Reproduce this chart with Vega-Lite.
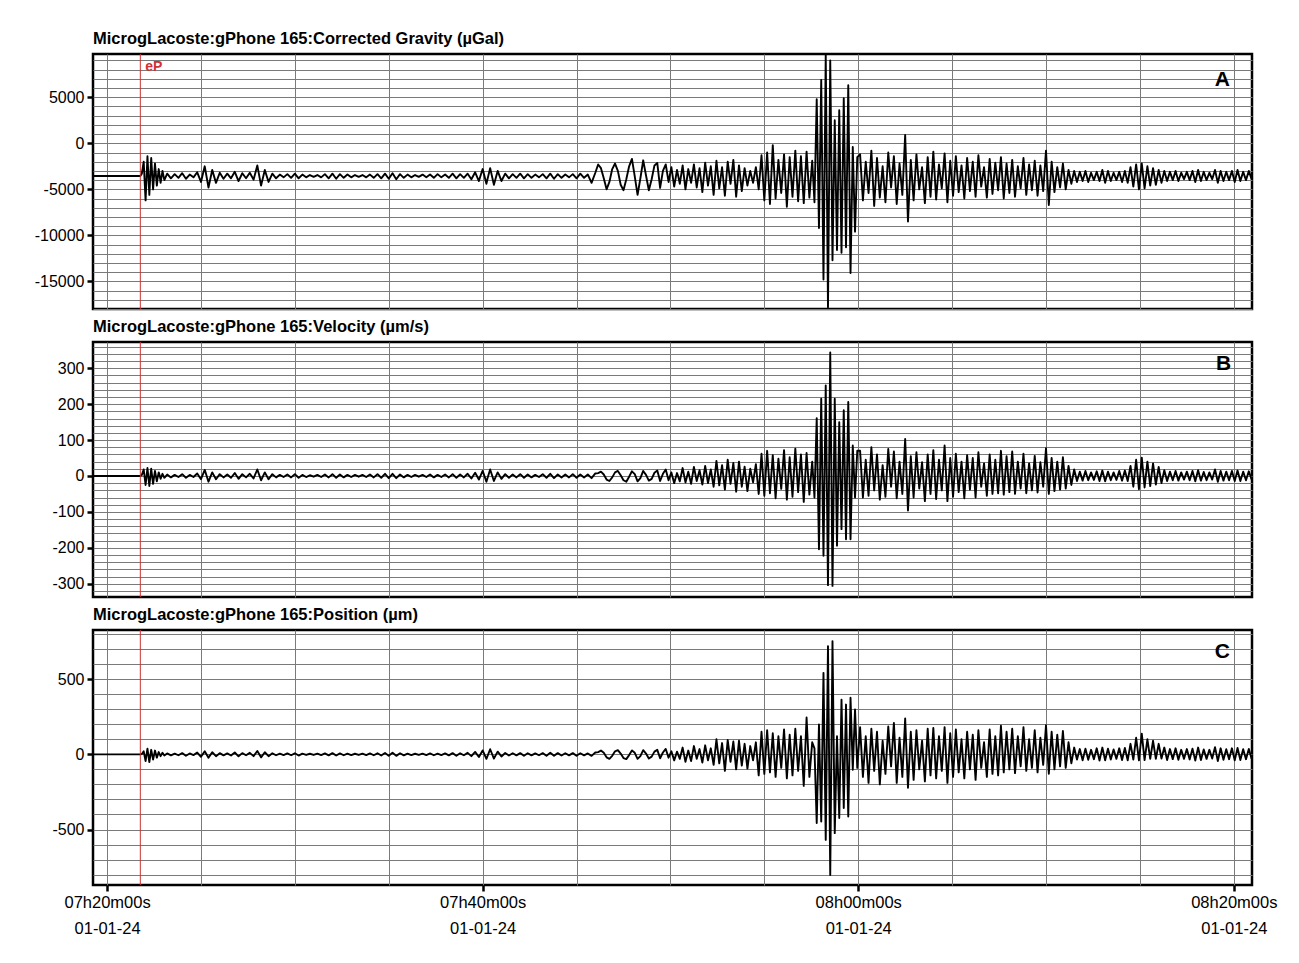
{
"$schema": "https://vega.github.io/schema/vega-lite/v6.json",
"padding": {"left": 6, "top": 29, "right": 10, "bottom": 10},
"spacing": 6,
"config": {
  "font": "Liberation Sans",
  "view": {"stroke": "black", "strokeWidth": 2.5},
  "axis": {"gridColor": "#7a7a7a", "gridWidth": 1, "gridOpacity": 1, "labelFont": "Liberation Sans", "labelFontSize": 16, "labelColor": "black", "tickColor": "black", "tickWidth": 2.5, "tickSize": 6, "domain": false, "title": null, "labelOverlap": false, "labelFlush": false, "tickCount": 200},
  "title": {"font": "Liberation Sans", "fontSize": 16.5, "fontWeight": "bold", "anchor": "start", "frame": "group", "color": "black", "offset": 6, "baseline": "bottom"}
},
"datasets": {"trace": [
{"t":-0.75,"a":-3550,"b":0,"c":0},
{"t":1.77,"a":-3550,"b":0,"c":0},
{"t":1.85,"a":-3300,"b":3,"c":2},
{"t":1.95,"a":-2000,"b":18,"c":20},
{"t":2.05,"a":-6200,"b":-25,"c":-45},
{"t":2.15,"a":-1400,"b":22,"c":38},
{"t":2.25,"a":-5600,"b":-28,"c":-51},
{"t":2.35,"a":-1600,"b":20,"c":30},
{"t":2.45,"a":-5000,"b":-22,"c":-35},
{"t":2.55,"a":-2200,"b":14,"c":25},
{"t":2.65,"a":-4600,"b":-15,"c":-22},
{"t":2.75,"a":-2800,"b":10,"c":15},
{"t":2.85,"a":-4300,"b":-8,"c":-12},
{"t":2.95,"a":-3000,"b":6,"c":10},
{"t":3.05,"a":-4000,"b":-5,"c":-8},
{"t":3.2,"a":-3300,"b":4,"c":6},
{"t":3.4,"a":-3800,"b":-4,"c":-7},
{"t":3.6,"a":-3350,"b":3,"c":5},
{"t":3.8,"a":-3750,"b":-3,"c":-6},
{"t":4.0,"a":-3250,"b":5,"c":8},
{"t":4.2,"a":-3850,"b":-5,"c":-9},
{"t":4.4,"a":-3400,"b":3,"c":6},
{"t":4.6,"a":-3700,"b":-3,"c":-5},
{"t":4.8,"a":-3150,"b":7,"c":12},
{"t":5.0,"a":-4200,"b":-9,"c":-16},
{"t":5.2,"a":-2500,"b":17,"c":20},
{"t":5.4,"a":-4800,"b":-16,"c":-22},
{"t":5.6,"a":-2900,"b":10,"c":14},
{"t":5.8,"a":-4300,"b":-9,"c":-12},
{"t":6.0,"a":-3200,"b":5,"c":8},
{"t":6.2,"a":-3850,"b":-4,"c":-7},
{"t":6.4,"a":-3300,"b":4,"c":6},
{"t":6.6,"a":-3800,"b":-5,"c":-8},
{"t":6.8,"a":-3100,"b":8,"c":12},
{"t":7.0,"a":-4100,"b":-8,"c":-13},
{"t":7.2,"a":-3250,"b":5,"c":8},
{"t":7.4,"a":-3800,"b":-4,"c":-6},
{"t":7.6,"a":-3200,"b":6,"c":10},
{"t":7.8,"a":-3950,"b":-7,"c":-12},
{"t":8.0,"a":-2400,"b":18,"c":22},
{"t":8.2,"a":-4600,"b":-12,"c":-20},
{"t":8.4,"a":-2900,"b":10,"c":14},
{"t":8.6,"a":-4200,"b":-9,"c":-12},
{"t":8.8,"a":-3300,"b":5,"c":7},
{"t":9.0,"a":-3800,"b":-4,"c":-6},
{"t":9.2,"a":-3400,"b":3,"c":5},
{"t":9.4,"a":-3700,"b":-3,"c":-5},
{"t":9.6,"a":-3350,"b":4,"c":6},
{"t":9.8,"a":-3750,"b":-4,"c":-6},
{"t":10.0,"a":-3300,"b":5,"c":7},
{"t":10.2,"a":-3800,"b":-5,"c":-8},
{"t":10.4,"a":-3400,"b":3,"c":5},
{"t":10.6,"a":-3700,"b":-3,"c":-4},
{"t":10.8,"a":-3450,"b":2,"c":4},
{"t":11.0,"a":-3650,"b":-2,"c":-4},
{"t":11.2,"a":-3450,"b":3,"c":5},
{"t":11.4,"a":-3700,"b":-3,"c":-5},
{"t":11.6,"a":-3350,"b":4,"c":6},
{"t":11.8,"a":-3800,"b":-4,"c":-7},
{"t":12.0,"a":-3300,"b":5,"c":8},
{"t":12.2,"a":-3850,"b":-5,"c":-8},
{"t":12.4,"a":-3350,"b":4,"c":6},
{"t":12.6,"a":-3750,"b":-4,"c":-6},
{"t":12.8,"a":-3400,"b":3,"c":5},
{"t":13.0,"a":-3700,"b":-3,"c":-5},
{"t":13.2,"a":-3450,"b":3,"c":4},
{"t":13.4,"a":-3650,"b":-2,"c":-4},
{"t":13.6,"a":-3450,"b":3,"c":5},
{"t":13.8,"a":-3700,"b":-3,"c":-5},
{"t":14.0,"a":-3400,"b":4,"c":6},
{"t":14.2,"a":-3750,"b":-4,"c":-6},
{"t":14.4,"a":-3350,"b":5,"c":7},
{"t":14.6,"a":-3800,"b":-5,"c":-8},
{"t":14.8,"a":-3300,"b":6,"c":9},
{"t":15.0,"a":-3850,"b":-6,"c":-9},
{"t":15.2,"a":-3250,"b":6,"c":10},
{"t":15.4,"a":-3900,"b":-6,"c":-10},
{"t":15.6,"a":-3350,"b":4,"c":7},
{"t":15.8,"a":-3750,"b":-4,"c":-7},
{"t":16.0,"a":-3400,"b":3,"c":5},
{"t":16.2,"a":-3700,"b":-3,"c":-5},
{"t":16.4,"a":-3450,"b":3,"c":4},
{"t":16.6,"a":-3650,"b":-2,"c":-4},
{"t":16.8,"a":-3400,"b":3,"c":5},
{"t":17.0,"a":-3700,"b":-3,"c":-5},
{"t":17.2,"a":-3400,"b":4,"c":6},
{"t":17.4,"a":-3750,"b":-4,"c":-6},
{"t":17.6,"a":-3350,"b":3,"c":5},
{"t":17.8,"a":-3700,"b":-3,"c":-5},
{"t":18.0,"a":-3400,"b":4,"c":6},
{"t":18.2,"a":-3750,"b":-4,"c":-7},
{"t":18.4,"a":-3300,"b":5,"c":8},
{"t":18.6,"a":-3800,"b":-5,"c":-9},
{"t":18.8,"a":-3350,"b":4,"c":7},
{"t":19.0,"a":-3750,"b":-4,"c":-6},
{"t":19.2,"a":-3300,"b":6,"c":10},
{"t":19.4,"a":-3900,"b":-7,"c":-12},
{"t":19.6,"a":-3150,"b":9,"c":16},
{"t":19.8,"a":-4100,"b":-10,"c":-18},
{"t":20.0,"a":-2800,"b":14,"c":26},
{"t":20.2,"a":-4400,"b":-16,"c":-30},
{"t":20.4,"a":-2700,"b":18,"c":34},
{"t":20.6,"a":-4500,"b":-14,"c":-28},
{"t":20.8,"a":-3000,"b":10,"c":18},
{"t":21.0,"a":-4100,"b":-8,"c":-14},
{"t":21.2,"a":-3300,"b":5,"c":9},
{"t":21.4,"a":-3800,"b":-5,"c":-8},
{"t":21.6,"a":-3350,"b":4,"c":7},
{"t":21.8,"a":-3750,"b":-4,"c":-7},
{"t":22.0,"a":-3300,"b":5,"c":8},
{"t":22.2,"a":-3800,"b":-5,"c":-9},
{"t":22.4,"a":-3350,"b":4,"c":7},
{"t":22.6,"a":-3750,"b":-4,"c":-7},
{"t":22.8,"a":-3400,"b":3,"c":6},
{"t":23.0,"a":-3700,"b":-3,"c":-6},
{"t":23.2,"a":-3350,"b":5,"c":8},
{"t":23.4,"a":-3800,"b":-5,"c":-9},
{"t":23.6,"a":-3300,"b":6,"c":10},
{"t":23.8,"a":-3850,"b":-6,"c":-10},
{"t":24.0,"a":-3350,"b":4,"c":8},
{"t":24.2,"a":-3750,"b":-4,"c":-8},
{"t":24.4,"a":-3400,"b":4,"c":7},
{"t":24.6,"a":-3700,"b":-4,"c":-7},
{"t":24.8,"a":-3350,"b":5,"c":8},
{"t":25.0,"a":-3800,"b":-5,"c":-9},
{"t":25.2,"a":-3300,"b":4,"c":7},
{"t":25.4,"a":-3750,"b":-4,"c":-7},
{"t":25.6,"a":-3400,"b":4,"c":6},
{"t":25.8,"a":-4300,"b":-6,"c":-10},
{"t":26.0,"a":-3200,"b":7,"c":12},
{"t":26.15,"a":-2300,"b":8,"c":15},
{"t":26.3,"a":-2700,"b":12,"c":25},
{"t":26.45,"a":-3800,"b":4,"c":10},
{"t":26.6,"a":-5000,"b":-10,"c":-20},
{"t":26.75,"a":-4200,"b":-14,"c":-30},
{"t":26.9,"a":-2800,"b":-4,"c":-10},
{"t":27.05,"a":-2200,"b":10,"c":20},
{"t":27.2,"a":-3000,"b":14,"c":28},
{"t":27.35,"a":-4500,"b":2,"c":5},
{"t":27.5,"a":-5100,"b":-12,"c":-25},
{"t":27.65,"a":-3900,"b":-16,"c":-32},
{"t":27.8,"a":-2500,"b":-2,"c":-5},
{"t":27.95,"a":-1700,"b":13,"c":26},
{"t":28.1,"a":-3600,"b":5,"c":10},
{"t":28.25,"a":-5600,"b":-15,"c":-30},
{"t":28.4,"a":-3800,"b":-6,"c":-12},
{"t":28.55,"a":-1850,"b":14,"c":28},
{"t":28.7,"a":-3500,"b":3,"c":5},
{"t":28.85,"a":-5100,"b":-13,"c":-28},
{"t":29.0,"a":-3900,"b":-8,"c":-15},
{"t":29.15,"a":-2400,"b":9,"c":18},
{"t":29.3,"a":-2150,"b":15,"c":30},
{"t":29.45,"a":-4850,"b":-14,"c":-26},
{"t":29.6,"a":-3000,"b":6,"c":12},
{"t":29.75,"a":-2300,"b":18,"c":36},
{"t":29.9,"a":-4200,"b":-12,"c":-22},
{"t":30.05,"a":-2600,"b":10,"c":20},
{"t":30.2,"a":-4700,"b":-20,"c":-40},
{"t":30.35,"a":-2900,"b":8,"c":18},
{"t":30.5,"a":-4400,"b":-15,"c":-30},
{"t":30.65,"a":-2400,"b":22,"c":45},
{"t":30.8,"a":-5000,"b":-18,"c":-50},
{"t":30.95,"a":-2800,"b":12,"c":25},
{"t":31.1,"a":-4300,"b":-22,"c":-45},
{"t":31.25,"a":-2300,"b":25,"c":55},
{"t":31.4,"a":-4800,"b":-14,"c":-30},
{"t":31.55,"a":-2700,"b":16,"c":35},
{"t":31.7,"a":-5300,"b":-24,"c":-55},
{"t":31.85,"a":-2100,"b":28,"c":60},
{"t":32.0,"a":-4600,"b":-20,"c":-40},
{"t":32.15,"a":-2500,"b":18,"c":40},
{"t":32.3,"a":-5600,"b":-30,"c":-70},
{"t":32.45,"a":-1900,"b":42,"c":100},
{"t":32.6,"a":-4900,"b":-26,"c":-60},
{"t":32.75,"a":-2600,"b":30,"c":75},
{"t":32.9,"a":-5700,"b":-38,"c":-110},
{"t":33.05,"a":-2000,"b":45,"c":95},
{"t":33.2,"a":-4400,"b":-22,"c":-50},
{"t":33.35,"a":-1800,"b":36,"c":85},
{"t":33.5,"a":-5800,"b":-44,"c":-100},
{"t":33.65,"a":-2400,"b":40,"c":90},
{"t":33.8,"a":-5200,"b":-30,"c":-75},
{"t":33.95,"a":-2700,"b":26,"c":70},
{"t":34.1,"a":-4600,"b":-42,"c":-95},
{"t":34.25,"a":-3000,"b":20,"c":55},
{"t":34.4,"a":-4300,"b":-18,"c":-40},
{"t":34.55,"a":-2600,"b":33,"c":80},
{"t":34.7,"a":-5000,"b":-50,"c":-140},
{"t":34.85,"a":-1300,"b":62,"c":150},
{"t":35.0,"a":-6200,"b":-55,"c":-130},
{"t":35.15,"a":-1000,"b":70,"c":160},
{"t":35.3,"a":-6600,"b":-48,"c":-120},
{"t":35.45,"a":-200,"b":58,"c":140},
{"t":35.6,"a":-6000,"b":-62,"c":-150},
{"t":35.75,"a":-1800,"b":48,"c":120},
{"t":35.9,"a":-5400,"b":-36,"c":-90},
{"t":36.05,"a":-1200,"b":72,"c":165},
{"t":36.2,"a":-6900,"b":-66,"c":-160},
{"t":36.35,"a":-1500,"b":52,"c":130},
{"t":36.5,"a":-5800,"b":-58,"c":-140},
{"t":36.65,"a":-800,"b":76,"c":170},
{"t":36.8,"a":-6300,"b":-45,"c":-110},
{"t":36.95,"a":-1400,"b":60,"c":120},
{"t":37.1,"a":-6500,"b":-72,"c":-210},
{"t":37.25,"a":-900,"b":64,"c":245},
{"t":37.4,"a":-5900,"b":-52,"c":-150},
{"t":37.55,"a":-1900,"b":40,"c":80},
{"t":37.67,"a":-6400,"b":-60,"c":40},
{"t":37.79,"a":4780,"b":161,"c":-457},
{"t":37.91,"a":-9200,"b":-204,"c":198},
{"t":38.03,"a":6880,"b":215,"c":-447},
{"t":38.15,"a":-14800,"b":-222,"c":542},
{"t":38.27,"a":9600,"b":252,"c":-569},
{"t":38.39,"a":-17800,"b":-304,"c":720},
{"t":38.51,"a":9000,"b":344,"c":-802},
{"t":38.63,"a":-12700,"b":-306,"c":753},
{"t":38.75,"a":2500,"b":215,"c":-524},
{"t":38.87,"a":-11600,"b":-194,"c":120},
{"t":38.99,"a":3600,"b":150,"c":-424},
{"t":39.11,"a":-11900,"b":-148,"c":364},
{"t":39.23,"a":4900,"b":183,"c":-357},
{"t":39.35,"a":-11300,"b":-176,"c":331},
{"t":39.47,"a":6300,"b":206,"c":-413},
{"t":39.59,"a":-14100,"b":-176,"c":376},
{"t":39.71,"a":-400,"b":85,"c":-102},
{"t":39.83,"a":-9600,"b":-60,"c":298},
{"t":39.95,"a":-1500,"b":70,"c":-90},
{"t":40.1,"a":-1200,"b":70,"c":180},
{"t":40.25,"a":-6200,"b":-60,"c":-150},
{"t":40.4,"a":-2000,"b":45,"c":120},
{"t":40.55,"a":-5400,"b":-55,"c":-190},
{"t":40.7,"a":-800,"b":80,"c":170},
{"t":40.85,"a":-6800,"b":-40,"c":-110},
{"t":41.0,"a":-1600,"b":60,"c":150},
{"t":41.15,"a":-5900,"b":-66,"c":-200},
{"t":41.3,"a":-2500,"b":30,"c":90},
{"t":41.45,"a":-6400,"b":-58,"c":-130},
{"t":41.6,"a":-1000,"b":75,"c":185},
{"t":41.75,"a":-4800,"b":-30,"c":-80},
{"t":41.9,"a":-1400,"b":68,"c":209},
{"t":42.05,"a":-6600,"b":-62,"c":-190},
{"t":42.2,"a":-2200,"b":40,"c":110},
{"t":42.35,"a":-5600,"b":-50,"c":-150},
{"t":42.5,"a":900,"b":103,"c":238},
{"t":42.65,"a":-8500,"b":-96,"c":-222},
{"t":42.8,"a":-1800,"b":55,"c":150},
{"t":42.95,"a":-6200,"b":-60,"c":-170},
{"t":43.1,"a":-1200,"b":66,"c":160},
{"t":43.25,"a":-5000,"b":-35,"c":-100},
{"t":43.4,"a":-2600,"b":38,"c":90},
{"t":43.55,"a":-6500,"b":-70,"c":-180},
{"t":43.7,"a":-1500,"b":60,"c":170},
{"t":43.85,"a":-5800,"b":-50,"c":-140},
{"t":44.0,"a":-900,"b":72,"c":175},
{"t":44.15,"a":-6100,"b":-64,"c":-160},
{"t":44.3,"a":-2300,"b":45,"c":120},
{"t":44.45,"a":-4900,"b":-40,"c":-110},
{"t":44.6,"a":-1100,"b":85,"c":180},
{"t":44.75,"a":-6400,"b":-70,"c":-190},
{"t":44.9,"a":-1900,"b":50,"c":140},
{"t":45.05,"a":-5700,"b":-58,"c":-150},
{"t":45.2,"a":-1400,"b":62,"c":165},
{"t":45.35,"a":-5300,"b":-45,"c":-120},
{"t":45.5,"a":-2400,"b":40,"c":100},
{"t":45.65,"a":-6000,"b":-62,"c":-160},
{"t":45.8,"a":-1600,"b":58,"c":150},
{"t":45.95,"a":-5200,"b":-38,"c":-100},
{"t":46.1,"a":-2000,"b":50,"c":130},
{"t":46.25,"a":-5800,"b":-60,"c":-170},
{"t":46.4,"a":-1300,"b":66,"c":160},
{"t":46.55,"a":-4700,"b":-30,"c":-90},
{"t":46.7,"a":-2600,"b":35,"c":80},
{"t":46.85,"a":-5900,"b":-55,"c":-150},
{"t":47.0,"a":-1700,"b":60,"c":165},
{"t":47.15,"a":-5500,"b":-50,"c":-130},
{"t":47.3,"a":-2100,"b":45,"c":120},
{"t":47.45,"a":-5100,"b":-48,"c":-140},
{"t":47.6,"a":-1500,"b":70,"c":190},
{"t":47.75,"a":-6000,"b":-52,"c":-120},
{"t":47.9,"a":-2200,"b":55,"c":150},
{"t":48.05,"a":-5400,"b":-45,"c":-100},
{"t":48.2,"a":-1800,"b":68,"c":170},
{"t":48.35,"a":-5800,"b":-50,"c":-125},
{"t":48.5,"a":-2500,"b":40,"c":120},
{"t":48.65,"a":-4900,"b":-35,"c":-80},
{"t":48.8,"a":-1600,"b":62,"c":180},
{"t":48.95,"a":-5600,"b":-48,"c":-110},
{"t":49.1,"a":-2300,"b":35,"c":100},
{"t":49.25,"a":-5100,"b":-40,"c":-90},
{"t":49.4,"a":-1900,"b":56,"c":160},
{"t":49.55,"a":-5700,"b":-46,"c":-120},
{"t":49.7,"a":-2400,"b":38,"c":110},
{"t":49.85,"a":-5200,"b":-30,"c":-70},
{"t":50.0,"a":-800,"b":77,"c":193},
{"t":50.15,"a":-6700,"b":-50,"c":-129},
{"t":50.3,"a":-2000,"b":50,"c":150},
{"t":50.45,"a":-5300,"b":-42,"c":-100},
{"t":50.6,"a":-2600,"b":40,"c":130},
{"t":50.75,"a":-4800,"b":-38,"c":-80},
{"t":50.9,"a":-2200,"b":52,"c":155},
{"t":51.05,"a":-5000,"b":-35,"c":-90},
{"t":51.2,"a":-2900,"b":28,"c":80},
{"t":51.35,"a":-4400,"b":-25,"c":-60},
{"t":51.5,"a":-3000,"b":18,"c":45},
{"t":51.65,"a":-4200,"b":-14,"c":-35},
{"t":51.8,"a":-3100,"b":12,"c":35},
{"t":51.95,"a":-4100,"b":-13,"c":-40},
{"t":52.1,"a":-3000,"b":14,"c":38},
{"t":52.25,"a":-4200,"b":-12,"c":-36},
{"t":52.4,"a":-3200,"b":10,"c":30},
{"t":52.55,"a":-4000,"b":-11,"c":-32},
{"t":52.7,"a":-3100,"b":13,"c":40},
{"t":52.85,"a":-4100,"b":-14,"c":-42},
{"t":53.0,"a":-2900,"b":15,"c":45},
{"t":53.15,"a":-4300,"b":-15,"c":-40},
{"t":53.3,"a":-3000,"b":12,"c":38},
{"t":53.45,"a":-4100,"b":-12,"c":-35},
{"t":53.6,"a":-3200,"b":10,"c":32},
{"t":53.75,"a":-4000,"b":-11,"c":-30},
{"t":53.9,"a":-3100,"b":14,"c":40},
{"t":54.05,"a":-4200,"b":-13,"c":-38},
{"t":54.2,"a":-3000,"b":15,"c":42},
{"t":54.35,"a":-4300,"b":-14,"c":-40},
{"t":54.5,"a":-2600,"b":28,"c":70},
{"t":54.65,"a":-4700,"b":-30,"c":-35},
{"t":54.8,"a":-2300,"b":45,"c":110},
{"t":54.95,"a":-5000,"b":-37,"c":-40},
{"t":55.1,"a":-2200,"b":51,"c":138},
{"t":55.25,"a":-4900,"b":-32,"c":-38},
{"t":55.4,"a":-2500,"b":40,"c":100},
{"t":55.55,"a":-4600,"b":-28,"c":-30},
{"t":55.7,"a":-2700,"b":35,"c":90},
{"t":55.85,"a":-4500,"b":-24,"c":-30},
{"t":56.0,"a":-2900,"b":25,"c":70},
{"t":56.15,"a":-4300,"b":-20,"c":-28},
{"t":56.3,"a":-3000,"b":16,"c":45},
{"t":56.45,"a":-4100,"b":-14,"c":-38},
{"t":56.6,"a":-3100,"b":12,"c":35},
{"t":56.75,"a":-4000,"b":-12,"c":-32},
{"t":56.9,"a":-3000,"b":14,"c":40},
{"t":57.05,"a":-4100,"b":-13,"c":-36},
{"t":57.2,"a":-3200,"b":10,"c":30},
{"t":57.35,"a":-3900,"b":-10,"c":-30},
{"t":57.5,"a":-3100,"b":12,"c":35},
{"t":57.65,"a":-4000,"b":-12,"c":-34},
{"t":57.8,"a":-3000,"b":14,"c":38},
{"t":57.95,"a":-4200,"b":-15,"c":-42},
{"t":58.1,"a":-2900,"b":16,"c":45},
{"t":58.25,"a":-4100,"b":-13,"c":-38},
{"t":58.4,"a":-3100,"b":11,"c":32},
{"t":58.55,"a":-4000,"b":-12,"c":-30},
{"t":58.7,"a":-3200,"b":10,"c":30},
{"t":58.85,"a":-3900,"b":-10,"c":-28},
{"t":59.0,"a":-2900,"b":18,"c":48},
{"t":59.15,"a":-4300,"b":-16,"c":-45},
{"t":59.3,"a":-3000,"b":14,"c":40},
{"t":59.45,"a":-4100,"b":-13,"c":-36},
{"t":59.6,"a":-3100,"b":12,"c":34},
{"t":59.75,"a":-4000,"b":-12,"c":-32},
{"t":59.9,"a":-3000,"b":14,"c":40},
{"t":60.05,"a":-4200,"b":-14,"c":-40},
{"t":60.2,"a":-2900,"b":15,"c":42},
{"t":60.35,"a":-4100,"b":-14,"c":-38},
{"t":60.5,"a":-3100,"b":12,"c":34},
{"t":60.65,"a":-4000,"b":-12,"c":-32},
{"t":60.8,"a":-3000,"b":13,"c":36},
{"t":60.95,"a":-3900,"b":-10,"c":-30}
]},
"vconcat": [
{
  "title": "MicrogLacoste:gPhone 165:Corrected Gravity (µGal)",
  "width": 1159, "height": 255,
  "layer": [
    {"data": {"name": "trace"},
     "mark": {"type": "line", "color": "black", "strokeWidth": 1.9, "strokeJoin": "round", "clip": true},
     "encoding": {
       "x": {"field": "t", "type": "quantitative", "scale": {"domain": [-0.75, 60.97], "nice": false, "zero": false},
             "axis": {"values": [0,5,10,15,20,25,30,35,40,45,50,55,60], "labels": false, "ticks": false, "grid": true, "tickCount": 200}},
       "y": {"field": "a", "type": "quantitative", "scale": {"domain": [-18000, 9700], "nice": false, "zero": false},
             "axis": {"values": [-18000,-17000,-16000,-15000,-14000,-13000,-12000,-11000,-10000,-9000,-8000,-7000,-6000,-5000,-4000,-3000,-2000,-1000,0,1000,2000,3000,4000,5000,6000,7000,8000,9000],
                      "tickCount": 200, "grid": true, "labelExpr": "datum.value % 5000 === 0 ? '' + datum.value : ''",
                      "labelFontSize": {"condition": {"test": "datum.value % 5000 === 0", "value": 16}, "value": 1},
                      "tickOpacity": {"condition": {"test": "datum.value % 5000 === 0", "value": 1}, "value": 0},
                      "minExtent": 85, "maxExtent": 85, "labelPadding": 3}}
     }},
    {"data": {"values": [{"phase": "eP", "t": 1.77}]},
     "mark": {"type": "rule", "color": "#cc3333", "strokeWidth": 1},
     "encoding": {"x": {"field": "t", "type": "quantitative"}}},
    {"data": {"values": [{"phase": "eP", "t": 1.77}]},
     "mark": {"type": "text", "color": "#cc3333", "fontWeight": "bold", "fontSize": 14, "align": "left", "baseline": "middle", "dx": 5},
     "encoding": {"x": {"field": "t", "type": "quantitative"}, "y": {"datum": 8290}, "text": {"field": "phase"}}},
    {"data": {"values": [{"panel": "A"}]},
     "mark": {"type": "text", "color": "black", "fontWeight": "bold", "fontSize": 21, "align": "center", "baseline": "middle"},
     "encoding": {"x": {"datum": 59.39}, "y": {"datum": 6880}, "text": {"field": "panel"}}}
  ]
},
{
  "title": "MicrogLacoste:gPhone 165:Velocity (µm/s)",
  "width": 1159, "height": 255,
  "layer": [
    {"data": {"name": "trace"},
     "mark": {"type": "line", "color": "black", "strokeWidth": 1.9, "strokeJoin": "round", "clip": true},
     "encoding": {
       "x": {"field": "t", "type": "quantitative", "scale": {"domain": [-0.75, 60.97], "nice": false, "zero": false},
             "axis": {"values": [0,5,10,15,20,25,30,35,40,45,50,55,60], "labels": false, "ticks": false, "grid": true, "tickCount": 200}},
       "y": {"field": "b", "type": "quantitative", "scale": {"domain": [-337, 373], "nice": false, "zero": false},
             "axis": {"values": [-320,-300,-280,-260,-240,-220,-200,-180,-160,-140,-120,-100,-80,-60,-40,-20,0,20,40,60,80,100,120,140,160,180,200,220,240,260,280,300,320,340,360],
                      "tickCount": 200, "grid": true, "labelExpr": "datum.value % 100 === 0 ? '' + datum.value : ''",
                      "labelFontSize": {"condition": {"test": "datum.value % 100 === 0", "value": 16}, "value": 1},
                      "tickOpacity": {"condition": {"test": "datum.value % 100 === 0", "value": 1}, "value": 0},
                      "minExtent": 85, "maxExtent": 85, "labelPadding": 3}}
     }},
    {"data": {"values": [{"phase": "eP", "t": 1.77}]},
     "mark": {"type": "rule", "color": "#cc3333", "strokeWidth": 1},
     "encoding": {"x": {"field": "t", "type": "quantitative"}}},
    {"data": {"values": [{"panel": "B"}]},
     "mark": {"type": "text", "color": "black", "fontWeight": "bold", "fontSize": 21, "align": "center", "baseline": "middle"},
     "encoding": {"x": {"datum": 59.45}, "y": {"datum": 312}, "text": {"field": "panel"}}}
  ]
},
{
  "title": "MicrogLacoste:gPhone 165:Position (µm)",
  "width": 1159, "height": 255,
  "layer": [
    {"data": {"name": "trace"},
     "mark": {"type": "line", "color": "black", "strokeWidth": 1.9, "strokeJoin": "round", "clip": true},
     "encoding": {
       "x": {"field": "t", "type": "quantitative", "scale": {"domain": [-0.75, 60.97], "nice": false, "zero": false},
             "axis": {"values": [0,5,10,15,20,25,30,35,40,45,50,55,60], "grid": true, "tickCount": 200,
                      "labelExpr": "datum.value === 0 ? ['07h20m00s','01-01-24'] : datum.value === 20 ? ['07h40m00s','01-01-24'] : datum.value === 40 ? ['08h00m00s','01-01-24'] : datum.value === 60 ? ['08h20m00s','01-01-24'] : ''",
                      "labelLineHeight": 26, "labelPadding": 3, "labelBaseline": "top", "labelFontSize": 16.5,
                      "tickOpacity": {"condition": {"test": "datum.value % 20 === 0", "value": 1}, "value": 0}}},
       "y": {"field": "c", "type": "quantitative", "scale": {"domain": [-869, 827], "nice": false, "zero": false},
             "axis": {"values": [-800,-700,-600,-500,-400,-300,-200,-100,0,100,200,300,400,500,600,700,800],
                      "tickCount": 200, "grid": true, "labelExpr": "datum.value % 500 === 0 ? '' + datum.value : ''",
                      "labelFontSize": {"condition": {"test": "datum.value % 500 === 0", "value": 16}, "value": 1},
                      "tickOpacity": {"condition": {"test": "datum.value % 500 === 0", "value": 1}, "value": 0},
                      "minExtent": 85, "maxExtent": 85, "labelPadding": 3}}
     }},
    {"data": {"values": [{"phase": "eP", "t": 1.77}]},
     "mark": {"type": "rule", "color": "#cc3333", "strokeWidth": 1},
     "encoding": {"x": {"field": "t", "type": "quantitative"}}},
    {"data": {"values": [{"panel": "C"}]},
     "mark": {"type": "text", "color": "black", "fontWeight": "bold", "fontSize": 21, "align": "center", "baseline": "middle"},
     "encoding": {"x": {"datum": 59.39}, "y": {"datum": 678}, "text": {"field": "panel"}}}
  ]
}
]
}
